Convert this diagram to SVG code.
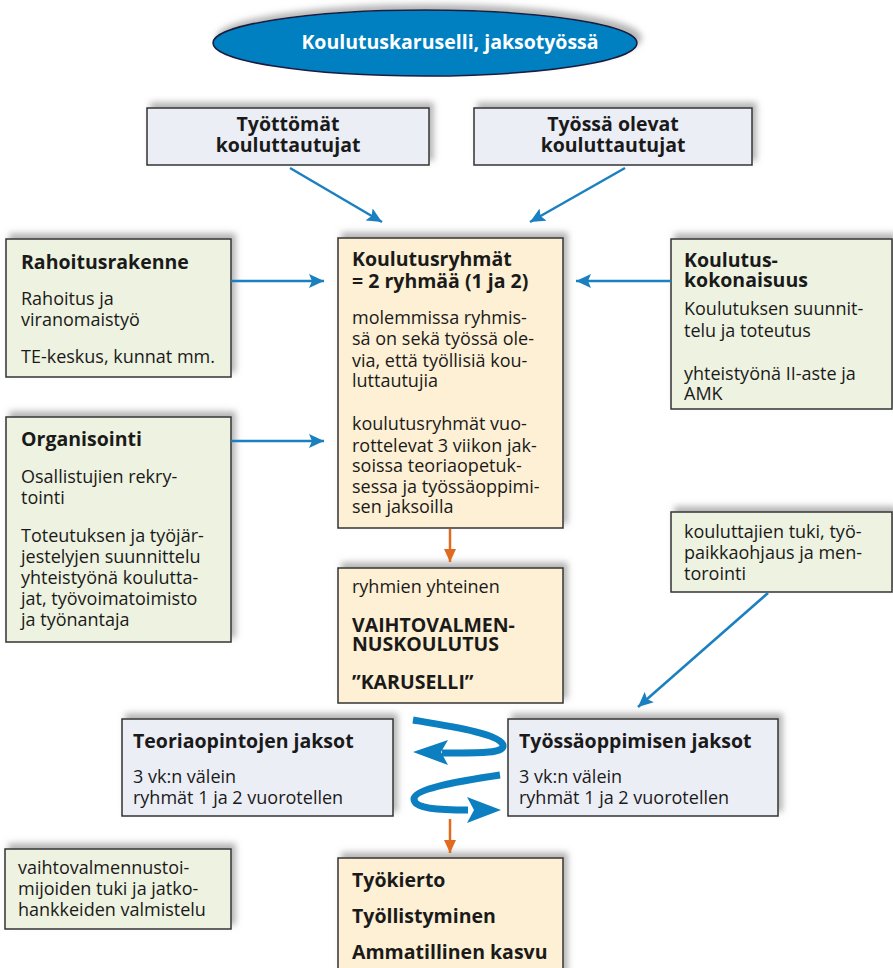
<svg xmlns="http://www.w3.org/2000/svg" width="893" height="968" viewBox="0 0 893 968">
<style>
.box{stroke:#333;stroke-width:1.5;filter:url(#sh)}
.g{fill:#eef2e0}
.c{fill:#fdf0d4}
.l{fill:#eceef6}
text{font-family:"Open Sans",Lato,"Liberation Sans",sans-serif;fill:#1a1a1a}
.t{font-size:19.5px;font-weight:bold}
.r{font-size:18px}
.m{text-anchor:middle}
.bl{stroke:#1a80c0;stroke-width:2.5;fill:none}
.sw{stroke:#0b7fbf;stroke-width:7;fill:none}
.or{stroke:#e06a20;stroke-width:2.5;fill:none}
</style>
<defs>
<filter id="sh" x="-10%" y="-20%" width="125%" height="140%">
<feDropShadow dx="4" dy="-5" stdDeviation="3" flood-color="#777" flood-opacity="0.55"/>
</filter>
<marker id="ab" markerUnits="userSpaceOnUse" markerWidth="16" markerHeight="14" refX="15" refY="7" orient="auto">
<path d="M0,0 L15,7 L0,14 L3,7 z" fill="#1a80c0"/>
</marker>
<marker id="ao" markerUnits="userSpaceOnUse" markerWidth="14" markerHeight="14" refX="13" refY="6" orient="auto">
<path d="M0,0 L13,6 L0,12 z" fill="#e06a20"/>
</marker>
</defs>
<rect width="893" height="968" fill="#fff"/>

<g id="title">
<ellipse cx="425" cy="43" rx="212" ry="33" fill="#0080c0" stroke="#1a1a40" stroke-width="1.5" filter="url(#sh)"/>
<text x="450" y="49" class="m" style="font-size:19.5px;font-weight:bold;fill:#fff">Koulutuskaruselli, jaksotyössä</text>
</g>

<g id="tyottomat">
<rect class="box l" x="147" y="108" width="282" height="57"/>
<text class="t m" x="288" y="131">Työttömät</text>
<text class="t m" x="288" y="152">kouluttautujat</text>
</g>

<g id="tyossa">
<rect class="box l" x="474" y="108" width="278" height="57"/>
<text class="t m" x="613" y="131">Työssä olevat</text>
<text class="t m" x="613" y="152">kouluttautujat</text>
</g>

<g id="rahoitus">
<rect class="box g" x="6" y="239" width="225" height="138"/>
<text class="t" x="21" y="269">Rahoitusrakenne</text>
<text class="r" x="21" y="305">Rahoitus ja</text>
<text class="r" x="21" y="326">viranomaistyö</text>
<text class="r" x="21" y="363">TE-keskus, kunnat mm.</text>
</g>

<g id="organisointi">
<rect class="box g" x="6" y="417" width="225" height="225"/>
<text class="t" x="21" y="446">Organisointi</text>
<text class="r" x="21" y="483">Osallistujien rekry-</text>
<text class="r" x="21" y="504">tointi</text>
<text class="r" x="21" y="542">Toteutuksen ja työjär-</text>
<text class="r" x="21" y="563">jestelyjen suunnittelu</text>
<text class="r" x="21" y="584">yhteistyönä koulutta-</text>
<text class="r" x="21" y="605">jat, työvoimatoimisto</text>
<text class="r" x="21" y="626">ja työnantaja</text>
</g>

<g id="koulutusryhmat">
<rect class="box c" x="338" y="238" width="225" height="290"/>
<text class="t" x="352" y="266">Koulutusryhmät</text>
<text class="t" x="352" y="288">= 2 ryhmää (1 ja 2)</text>
<text class="r" x="352" y="324">molemmissa ryhmis-</text>
<text class="r" x="352" y="345">sä on sekä työssä ole-</text>
<text class="r" x="352" y="367">via, että työllisiä kou-</text>
<text class="r" x="352" y="387">luttautujia</text>
<text class="r" x="352" y="430">koulutusryhmät vuo-</text>
<text class="r" x="352" y="452">rottelevat 3 viikon jak-</text>
<text class="r" x="352" y="472">soissa teoriaopetuk-</text>
<text class="r" x="352" y="493">sessa ja työssäoppimi-</text>
<text class="r" x="352" y="513">sen jaksoilla</text>
</g>

<g id="kokonaisuus">
<rect class="box g" x="671" y="239" width="221" height="170"/>
<text class="t" x="684" y="267">Koulutus-</text>
<text class="t" x="684" y="287">kokonaisuus</text>
<text class="r" x="684" y="315">Koulutuksen suunnit-</text>
<text class="r" x="684" y="337">telu ja toteutus</text>
<text class="r" x="684" y="380">yhteistyönä II-aste ja</text>
<text class="r" x="684" y="400">AMK</text>
</g>

<g id="tuki">
<rect class="box g" x="671" y="512" width="221" height="80"/>
<text class="r" x="684" y="538">kouluttajien tuki, työ-</text>
<text class="r" x="684" y="559">paikkaohjaus ja men-</text>
<text class="r" x="684" y="580">torointi</text>
</g>

<g id="karuselli">
<rect class="box c" x="338" y="568" width="225" height="135"/>
<text class="r" x="352" y="593">ryhmien yhteinen</text>
<text class="t" x="352" y="632">VAIHTOVALMEN-</text>
<text class="t" x="352" y="651">NUSKOULUTUS</text>
<text class="t" x="352" y="689">”KARUSELLI”</text>
</g>

<g id="teoria">
<rect class="box l" x="122" y="719" width="271" height="97"/>
<text class="t" x="133" y="748">Teoriaopintojen jaksot</text>
<text class="r" x="133" y="783">3 vk:n välein</text>
<text class="r" x="133" y="804">ryhmät 1 ja 2 vuorotellen</text>
</g>

<g id="tyossaoppiminen">
<rect class="box l" x="508" y="719" width="270" height="97"/>
<text class="t" x="519" y="748">Työssäoppimisen jaksot</text>
<text class="r" x="519" y="783">3 vk:n välein</text>
<text class="r" x="519" y="804">ryhmät 1 ja 2 vuorotellen</text>
</g>

<g id="vaihto">
<rect class="box g" x="5" y="849" width="226" height="80"/>
<text class="r" x="18" y="874">vaihtovalmennustoi-</text>
<text class="r" x="18" y="895">mijoiden tuki ja jatko-</text>
<text class="r" x="18" y="916">hankkeiden valmistelu</text>
</g>

<g id="tulokset">
<rect class="box c" x="338" y="858" width="225" height="120"/>
<text class="t" x="352" y="887">Työkierto</text>
<text class="t" x="352" y="923">Työllistyminen</text>
<text class="t" x="352" y="959">Ammatillinen kasvu</text>
</g>

<g id="connectors">
<line class="bl" x1="290" y1="168" x2="382" y2="222" marker-end="url(#ab)"/>
<line class="bl" x1="625" y1="168" x2="530" y2="222" marker-end="url(#ab)"/>
<line class="bl" x1="231" y1="281" x2="324" y2="281" marker-end="url(#ab)"/>
<line class="bl" x1="231" y1="441" x2="324" y2="441" marker-end="url(#ab)"/>
<line class="bl" x1="671" y1="281" x2="576" y2="281" marker-end="url(#ab)"/>
<line class="bl" x1="768" y1="593" x2="638" y2="707" marker-end="url(#ab)"/>
<line class="or" x1="450" y1="529" x2="450" y2="562" marker-end="url(#ao)"/>
<line class="or" x1="450" y1="819" x2="450" y2="853" marker-end="url(#ao)"/>
<path class="sw" d="M413,720 C455,727 500,734 503,745 C505,754 475,753 442,753"/>
<path d="M413,752 L448,740 L441,752 L448,765 z" fill="#0b7fbf"/>
<path class="sw" d="M500,775 C460,781 414,789 414,799 C414,809 440,810 468,810"/>
<path d="M501,810 L467,797 L474,810 L467,823 z" fill="#0b7fbf"/>
</g>
</svg>
